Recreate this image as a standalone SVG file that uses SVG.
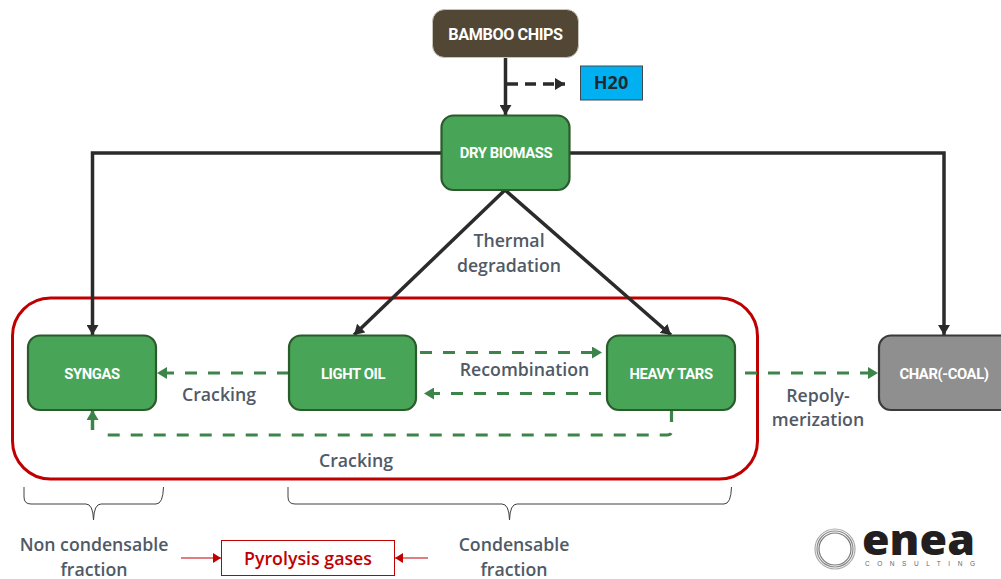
<svg xmlns="http://www.w3.org/2000/svg" width="1001" height="579" viewBox="0 0 1001 579">
<style>
.g{fill:#48a457;stroke:#2b5a2c;stroke-width:2.2}
.nt{font-family:Roboto,"Liberation Sans",sans-serif;font-weight:700;font-size:14.800px;fill:#fff;text-anchor:middle;letter-spacing:-.4px}
.lb{font-family:"Open Sans","Noto Sans",sans-serif;font-weight:600;font-size:17.700px;fill:#505a66;text-anchor:middle}
.k{fill:none;stroke:#2b2b2b;stroke-width:3.500}
.d{fill:none;stroke:#3c8449;stroke-width:3.200;stroke-dasharray:12 11}
.br{fill:none;stroke:#404040;stroke-width:1}
</style>
<defs>
<marker id="ak" markerUnits="userSpaceOnUse" markerWidth="12" markerHeight="12" refX="10" refY="6" orient="auto"><path d="M0 0L10 6L0 12Z" fill="#2b2b2b"/></marker>
<marker id="ag" markerUnits="userSpaceOnUse" markerWidth="11" markerHeight="12" refX="10" refY="6" orient="auto"><path d="M0 0L10 6L0 12Z" fill="#3c8449"/></marker>
<marker id="ar" markerUnits="userSpaceOnUse" markerWidth="9" markerHeight="10" refX="8" refY="5" orient="auto"><path d="M0 0L8 5L0 10Z" fill="#c00000"/></marker>
</defs>
<rect id="pyrolysis-frame" x="12.500" y="298" width="745" height="181" rx="38" fill="none" stroke="#c00000" stroke-width="3"/>
<g id="connectors">
<path class="k" d="M505.500 58V115" marker-end="url(#ak)"/>
<path class="k" d="M507 84H565" stroke-dasharray="11 7" marker-end="url(#ak)"/>
<path class="k" d="M441 153H92.500V335" marker-end="url(#ak)"/>
<path class="k" d="M569 153H944V335" marker-end="url(#ak)"/>
<path class="k" d="M505 190L354 335" marker-end="url(#ak)"/>
<path class="k" d="M505 190L671 335" marker-end="url(#ak)"/>
<path class="d" d="M289 373H157" marker-end="url(#ag)"/>
<path class="d" d="M420 352.500H602" marker-end="url(#ag)"/>
<path class="d" d="M601 393.500H424" marker-end="url(#ag)"/>
<path class="d" d="M671.500 410V431Q671.500 435 667 435H98" />
<path class="k" style="stroke:#3c8449" d="M92.500 430V410" marker-end="url(#ag)"/>
<path class="d" d="M745 373H878" marker-end="url(#ag)"/>
<path fill="none" stroke="#c00000" stroke-width="1.200" d="M181 558H221" marker-end="url(#ar)"/>
<path fill="none" stroke="#c00000" stroke-width="1.200" d="M428 558H395" marker-end="url(#ar)"/>
</g>
<g id="bamboo-chips"><rect x="432.500" y="9.500" width="146" height="48" rx="12" fill="#524734" stroke="#c9c5bb" stroke-width="1"/><text class="nt" x="505.500" y="40" style="font-size:16.200px">BAMBOO CHIPS</text></g>
<g id="h20"><rect x="580.500" y="66" width="62" height="34" fill="#00b0f0" stroke="#3f4a50" stroke-width="1"/><text x="611" y="88.500" text-anchor="middle" style="font-family:'Open Sans',sans-serif;font-weight:700;font-size:18px;fill:#1c2b33">H20</text></g>
<g id="dry-biomass"><rect class="g" x="441.500" y="115.500" width="128" height="74.500" rx="12"/><text class="nt" x="506" y="158">DRY BIOMASS</text></g>
<g id="syngas"><rect class="g" x="28" y="335.500" width="128" height="74.500" rx="12"/><text class="nt" x="92" y="379">SYNGAS</text></g>
<g id="light-oil"><rect class="g" x="289" y="335.500" width="127" height="74.500" rx="12"/><text class="nt" x="353" y="379">LIGHT OIL</text></g>
<g id="heavy-tars"><rect class="g" x="607" y="335.500" width="128" height="74.500" rx="12"/><text class="nt" x="671" y="379">HEAVY TARS</text></g>
<g id="char-coal"><rect x="879" y="335.500" width="135" height="74.500" rx="12" fill="#8f8f8f" stroke="#3a3a3a" stroke-width="2.200"/><text class="nt" x="944" y="379">CHAR(-COAL)</text></g>
<g id="labels">
<text class="lb" x="509" y="247">Thermal</text>
<text class="lb" x="509" y="271.500">degradation</text>
<text class="lb" x="219" y="401">Cracking</text>
<text class="lb" x="524.500" y="376">Recombination</text>
<text class="lb" x="356" y="467">Cracking</text>
<text class="lb" x="818" y="402">Repoly-</text>
<text class="lb" x="818" y="426">merization</text>
<text class="lb" x="94" y="551">Non condensable</text>
<text class="lb" x="94" y="575.500">fraction</text>
<text class="lb" x="514" y="551">Condensable</text>
<text class="lb" x="514" y="575.500">fraction</text>
</g>
<g id="braces">
<path class="br" d="M24 487V497Q24 504 31 504H86Q93 504 93.500 520Q94 504 101 504H156Q163 504 163.500 487"/>
<path class="br" d="M288 487V497Q288 504 295 504H502Q509 504 509.500 520Q510 504 517 504H724Q731 504 731.500 487"/>
</g>
<g id="pyrolysis-gases"><rect x="221.500" y="540.500" width="173" height="35" fill="#fff" stroke="#c00000" stroke-width="1"/><text x="308" y="564.500" text-anchor="middle" style="font-family:'Open Sans',sans-serif;font-weight:600;font-size:17.800px;fill:#c00000">Pyrolysis gases</text></g>
<g id="logo">
<circle cx="835" cy="549" r="20" fill="none" stroke="#aaa" stroke-width="1.200"/>
<circle cx="835" cy="549" r="18" fill="none" stroke="#888" stroke-width="1.200"/>
<circle cx="835" cy="549" r="16" fill="none" stroke="#777" stroke-width="1.200"/>
<text x="862" y="555" textLength="113" lengthAdjust="spacingAndGlyphs" style="font-family:'Open Sans',sans-serif;font-weight:800;font-size:42px;fill:#231f20">enea</text>
<text x="865" y="566" textLength="110" style="font-family:'Liberation Sans',sans-serif;font-size:6.500px;fill:#666">CONSULTING</text>
</g>
</svg>
